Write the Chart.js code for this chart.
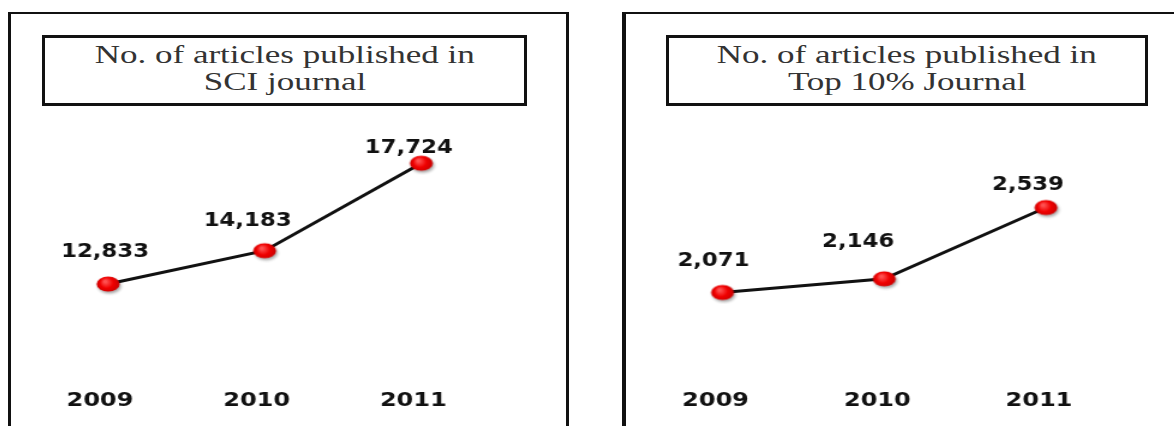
<!DOCTYPE html>
<html>
<head>
<meta charset="utf-8">
<script src="https://cdn.jsdelivr.net/npm/chart.js@4.4.1/dist/chart.umd.min.js"></script>
<style>
  html, body { margin: 0; padding: 0; background: #fff; width: 1174px; height: 426px; overflow: hidden; }
  .panel { position: absolute; top: 12px; height: 440px; border-top: 2px solid #111; box-sizing: border-box; }
  #panelSci { left: 8px; width: 561px; border-left: 3px solid #111; border-right: 3px solid #111; }
  #panelTop { left: 622px; width: 600px; border-left: 4px solid #111; }
  .titleBox {
    position: absolute; top: 35px; height: 71px; box-sizing: border-box;
    border: 3px solid #111; padding-top: 3px;
    font-family: "Liberation Serif", "Times New Roman", serif;
    font-size: 25px; line-height: 27.4px; color: #333; text-align: center;
  }
  .titleBox span { display: inline-block; transform: scaleX(1.4); white-space: nowrap; }
  #titleSci { left: 42px; width: 485px; }
  #titleTop { left: 666px; width: 482px; }
  canvas { position: absolute; top: 110px; }
  #sciChart { left: 11px; }
  #topChart { left: 626px; }
</style>
</head>
<body>
<div class="panel" id="panelSci"></div>
<div class="panel" id="panelTop"></div>
<div class="titleBox" id="titleSci"><span>No. of articles published in</span><br><span>SCI journal</span></div>
<div class="titleBox" id="titleTop"><span>No. of articles published in</span><br><span>Top 10% Journal</span></div>
<!-- canvases are drawn narrow and shown 1.2x wider, like the stretched original -->
<canvas id="sciChart" width="463" height="316" style="width:555.6px;height:316px"></canvas>
<canvas id="topChart" width="457" height="316" style="width:548.4px;height:316px"></canvas>

<script>
const years = ['2009', '2010', '2011'];
const sciArticles = [12833, 14183, 17724];
const topArticles = [2071, 2146, 2539];

// red glossy dot with a little shadow, used as the point style
function makeDot() {
  const c = document.createElement('canvas');
  c.width = 28;
  c.height = 24;
  const g = c.getContext('2d');
  g.shadowColor = 'rgba(0,0,0,0.35)';
  g.shadowBlur = 3;
  g.shadowOffsetX = 1.2;
  g.shadowOffsetY = 2;
  const grad = g.createRadialGradient(11.5, 9.5, 1, 14, 12, 10);
  grad.addColorStop(0, '#ff5252');
  grad.addColorStop(0.5, '#f00000');
  grad.addColorStop(1, '#c40000');
  g.fillStyle = grad;
  g.beginPath();
  g.ellipse(14, 12, 9.6, 7.5, 0, 0, Math.PI * 2);
  g.fill();
  return c;
}
const dot = makeDot();

// value printed above each point
function valueTags(shift) {
  return {
    id: 'valueTags',
    afterDatasetsDraw(chart) {
      const ctx = chart.ctx;
      const meta = chart.getDatasetMeta(0);
      const vals = chart.data.datasets[0].data;
      ctx.save();
      ctx.font = 'bold 19px "DejaVu Sans"';
      ctx.fillStyle = '#111';
      ctx.textAlign = 'center';
      ctx.textBaseline = 'middle';
      meta.data.forEach(function(pt, i) {
        ctx.fillText(vals[i].toLocaleString('en-US'), pt.x + shift[i][0], pt.y + shift[i][1]);
      });
      ctx.restore();
    }
  };
}

function makeChart(id, values, yMin, yMax, pad, tickShift, labelShift) {
  return new Chart(document.getElementById(id), {
    type: 'line',
    data: {
      labels: years,
      datasets: [{
        data: values,
        borderColor: '#111',
        borderWidth: 3,
        tension: 0,
        pointStyle: dot,
        pointRadius: 10,
        pointHoverRadius: 10,
        clip: false
      }]
    },
    options: {
      responsive: false,
      animation: false,
      events: [],
      layout: { padding: pad },
      plugins: {
        legend: { display: false },
        tooltip: { enabled: false }
      },
      scales: {
        x: {
          offset: true,
          grid: { display: false, drawTicks: false },
          border: { display: false },
          ticks: {
            color: '#111',
            font: { family: 'DejaVu Sans', weight: 'bold', size: 20 },
            padding: 0,
            labelOffset: tickShift,
            maxRotation: 0,
            autoSkip: false
          },
          afterFit: function(scale) { scale.height = 30; }
        },
        y: { display: false, min: yMin, max: yMax }
      }
    },
    plugins: [valueTags(labelShift)]
  });
}

makeChart('sciChart', sciArticles, 8584, 19070,
  { top: 20, bottom: 7, left: 15.6, right: 56.1 }, -6.7,
  [[-2.5, -31.5], [-14.2, -29.5], [-10.4, -15]]);

makeChart('topChart', topArticles, 1539, 2966,
  { top: 20, bottom: 7, left: 11.5, right: 39.3 }, -5.8,
  [[-7.5, -31], [-21.7, -37], [-15, -22]]);
</script>
</body>
</html>
